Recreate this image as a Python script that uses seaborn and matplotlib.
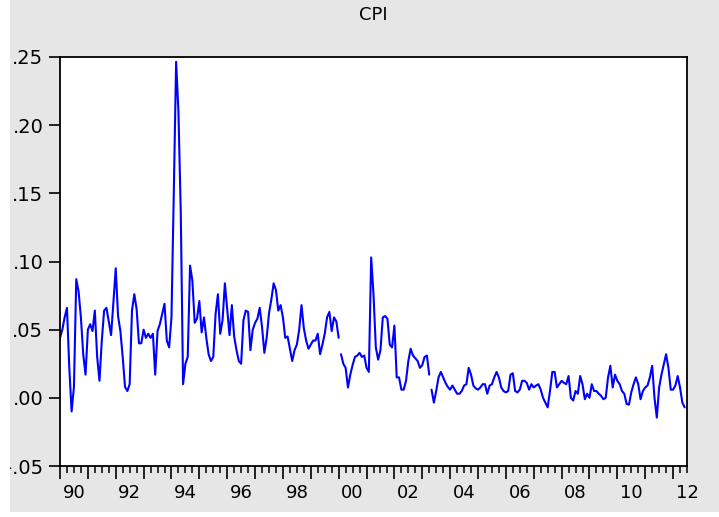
import numpy as np
import pandas as pd
import matplotlib
matplotlib.use("Agg")
import matplotlib.pyplot as plt
import seaborn as sns
from matplotlib.patches import Rectangle
from matplotlib.ticker import MultipleLocator

# ---- data (monthly, starting 1990M1), three unconnected segments ----
start_year = 1990
cpi_seg1 = [  # 1990M1 - 2000M1
    0.044, 0.050, 0.059, 0.066, 0.022, -0.010, 0.008, 0.087, 0.078, 0.059,
    0.032, 0.017, 0.050, 0.054, 0.049, 0.064, 0.030, 0.0125, 0.042, 0.064,
    0.066, 0.056, 0.046, 0.070, 0.095, 0.060, 0.049, 0.030, 0.008, 0.005,
    0.010, 0.064, 0.076, 0.065, 0.040, 0.040, 0.050, 0.044, 0.047, 0.044,
    0.047, 0.017, 0.049, 0.054, 0.0615, 0.069, 0.042, 0.037, 0.059, 0.150,
    0.2465, 0.210, 0.136, 0.010, 0.025, 0.030, 0.097, 0.086, 0.055, 0.058,
    0.071, 0.048, 0.059, 0.044, 0.032, 0.027, 0.030, 0.0615, 0.076, 0.047,
    0.057, 0.084, 0.065, 0.046, 0.068, 0.045, 0.035, 0.027, 0.025, 0.057,
    0.064, 0.063, 0.035, 0.050, 0.055, 0.058, 0.066, 0.052, 0.033, 0.044,
    0.062, 0.072, 0.084, 0.079, 0.064, 0.068, 0.059, 0.044, 0.045, 0.036,
    0.027, 0.035, 0.039, 0.050, 0.068, 0.051, 0.042, 0.036, 0.039, 0.042,
    0.042, 0.047, 0.032, 0.039, 0.047, 0.059, 0.063, 0.049, 0.059, 0.056,
    0.044,
]
cpi_seg2 = [  # 2000M2 - 2003M4
    0.032, 0.025, 0.022, 0.0076, 0.017, 0.024, 0.030, 0.031, 0.033,
    0.030, 0.031, 0.022, 0.019, 0.103, 0.076, 0.037, 0.028, 0.035, 0.059,
    0.060, 0.058, 0.039, 0.037, 0.053, 0.015, 0.015, 0.006, 0.006, 0.0125,
    0.027, 0.036, 0.031, 0.029, 0.027, 0.022, 0.024, 0.030, 0.031, 0.017,
]
cpi_seg3 = [  # 2003M5 - 2012M6
    0.006, -0.0035, 0.005, 0.015, 0.019, 0.015, 0.011, 0.008, 0.006, 0.009,
    0.006, 0.003, 0.003, 0.005, 0.009, 0.010, 0.022, 0.017, 0.009, 0.007,
    0.006, 0.0076, 0.010, 0.010, 0.003, 0.009, 0.010, 0.015, 0.019, 0.015,
    0.0076, 0.005, 0.004, 0.005, 0.017, 0.018, 0.005, 0.004, 0.006, 0.0125,
    0.0125, 0.011, 0.006, 0.010, 0.0076, 0.009, 0.010, 0.006, 0.0, -0.0035,
    -0.007, 0.005, 0.019, 0.019, 0.0076, 0.010, 0.0125, 0.011, 0.010, 0.016,
    0.0, -0.002, 0.005, 0.003, 0.016, 0.010, -0.001, 0.003, 0.0, 0.010,
    0.005, 0.005, 0.003, 0.0015, -0.001, 0.0, 0.015, 0.0235, 0.0076, 0.017,
    0.0125, 0.010, 0.005, 0.003, -0.0045, -0.005, 0.004, 0.010, 0.015, 0.010,
    -0.001, 0.005, 0.0076, 0.009, 0.015, 0.0235, 0.0, -0.0145, 0.0076, 0.017,
    0.0245, 0.032, 0.022, 0.006, 0.006, 0.009, 0.016, 0.0076, -0.0035, -0.007,
]
ytick_vals = [-0.05, 0.00, 0.05, 0.10, 0.15, 0.20, 0.25]
ytick_labels = ["-.05", ".00", ".05", ".10", ".15", ".20", ".25"]
xlabel_years = [1990, 1992, 1994, 1996, 1998, 2000, 2002, 2004, 2006, 2008, 2010, 2012]
xlabel_text = ["90", "92", "94", "96", "98", "00", "02", "04", "06", "08", "10", "12"]

segments = [cpi_seg1, cpi_seg2, cpi_seg3]
vals = np.concatenate([np.array(s, dtype=float) for s in segments])
seg_id = np.concatenate([np.full(len(s), i) for i, s in enumerate(segments)])
t = start_year + np.arange(len(vals)) / 12.0
df = pd.DataFrame({"t": t, "cpi": vals, "seg": seg_id})

# ---- figure ----
sns.set_theme(style="white")
plt.rcParams["font.family"] = ["DejaVu Sans"]

W, H = 719, 517
fig = plt.figure(figsize=(W / 100, H / 100), dpi=100, facecolor="#e6e6e6")
ax = fig.add_axes([60 / W, 1 - 466 / H, 627 / W, 409 / H])
ax.set_facecolor("white")

sns.lineplot(data=df, x="t", y="cpi", units="seg", estimator=None,
             color="#0000ff", linewidth=1.5, ax=ax, legend=False)

ax.set_xlim(1990, 2012.5)
ax.set_ylim(-0.05, 0.25)
ax.set_xlabel("")
ax.set_ylabel("")

for s in ax.spines.values():
    s.set_visible(True)
    s.set_color("black")
    s.set_linewidth(1.3)

ax.set_yticks(ytick_vals)
ax.set_yticklabels(ytick_labels)
ax.tick_params(axis="y", length=8, width=1.2, direction="out", pad=4,
               labelsize=14, colors="black", left=True)

ax.xaxis.set_major_locator(MultipleLocator(1))
ax.xaxis.set_minor_locator(MultipleLocator(0.25))
ax.tick_params(axis="x", which="major", length=9, width=1.2, direction="out",
               bottom=True, labelbottom=False, color="black")
ax.tick_params(axis="x", which="minor", length=5, width=1.1, direction="out",
               bottom=True, color="black")

sec = ax.secondary_xaxis("bottom")
sec.set_xticks([y + 0.5 for y in xlabel_years])
sec.set_xticklabels(xlabel_text)
sec.tick_params(length=0, pad=13, labelsize=13, colors="black")
sec.spines["bottom"].set_visible(False)

ax.set_title("CPI", fontsize=13, color="black", pad=27)

# white margins of the screenshot
fig.add_artist(Rectangle((0, 0), 10 / W, 1, transform=fig.transFigure,
                         facecolor="white", edgecolor="none", zorder=10))
fig.add_artist(Rectangle((0, 0), 1, 5 / H, transform=fig.transFigure,
                         facecolor="white", edgecolor="none", zorder=10))

fig.savefig("out.png", dpi=100, facecolor=fig.get_facecolor())
